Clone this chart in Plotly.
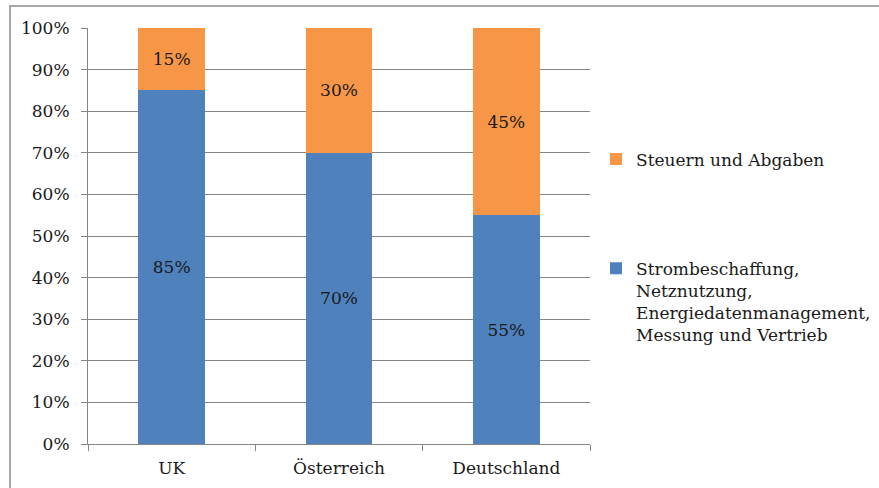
import plotly.graph_objects as go

# Cost share of the electricity price per country (percent)
countries = ["UK", "Österreich", "Deutschland"]
beschaffung = [85, 70, 55]
steuern = [15, 30, 45]
y_ticks = [0, 10, 20, 30, 40, 50, 60, 70, 80, 90, 100]

blue = "#4F81BD"
orange = "#F79646"
grid = "#868686"
font_family = "DejaVu Serif"
text_color = "#1a1a1a"
fs = 17

fig = go.Figure()
fig.add_trace(go.Bar(
    x=countries,
    y=[v / 100 for v in beschaffung],
    name="Strombeschaffung,<br>Netznutzung,<br>Energiedatenmanagement,<br>Messung und Vertrieb",
    marker=dict(color=blue, line=dict(width=0)),
    text=[f"{v}%" for v in beschaffung],
    textposition="inside",
    insidetextanchor="middle",
    textfont=dict(color=text_color, size=fs, family=font_family),
    width=0.4,
    legendgroup="a",
    legendrank=2,
))
fig.add_trace(go.Bar(
    x=countries,
    y=[v / 100 for v in steuern],
    name="Steuern und Abgaben",
    marker=dict(color=orange, line=dict(width=0)),
    text=[f"{v}%" for v in steuern],
    textposition="inside",
    insidetextanchor="middle",
    textfont=dict(color=text_color, size=fs, family=font_family),
    width=0.4,
    legendgroup="b",
    legendrank=1,
))

L, R, T, B = 88, 289, 28, 44
W, H = 879, 488
pw = W - L - R
ph = H - T - B

fig.update_layout(
    barmode="stack",
    width=W,
    height=H,
    margin=dict(l=L, r=R, t=T, b=B, pad=0, autoexpand=False),
    paper_bgcolor="white",
    plot_bgcolor="white",
    font=dict(family=font_family, size=fs, color=text_color),
    legend=dict(
        traceorder="grouped",
        tracegroupgap=84,
        x=1.012,
        y=0.727,
        xanchor="left",
        yanchor="top",
        valign="top",
        font=dict(family=font_family, size=fs, color=text_color),
        bgcolor="rgba(0,0,0,0)",
    ),
    xaxis=dict(
        range=[-0.5, 2.5],
        showline=True,
        linecolor=grid,
        linewidth=1,
        ticks="outside",
        tickson="boundaries",
        ticklen=6,
        tickcolor=grid,
        ticklabelstandoff=9,
        showgrid=False,
        tickfont=dict(family=font_family, size=fs, color=text_color),
    ),
    yaxis=dict(
        range=[0, 1],
        tickvals=[v / 100 for v in y_ticks],
        ticktext=[f"{v}%" for v in y_ticks],
        showline=True,
        linecolor=grid,
        linewidth=1,
        ticks="outside",
        ticklen=6,
        tickcolor=grid,
        ticklabelstandoff=8,
        showgrid=True,
        gridcolor=grid,
        gridwidth=1,
        zeroline=False,
        tickfont=dict(family=font_family, size=fs, color=text_color),
    ),
    shapes=[
        dict(
            type="rect",
            xref="paper",
            yref="paper",
            x0=(10 - L) / pw,
            x1=(W + 20 - L) / pw,
            y0=-(B + 20) / ph,
            y1=(H - B - 6) / ph,
            line=dict(color="#8c8c8c", width=1.5),
            fillcolor="rgba(0,0,0,0)",
            layer="below",
        )
    ],
)

fig.write_html("out.html")
